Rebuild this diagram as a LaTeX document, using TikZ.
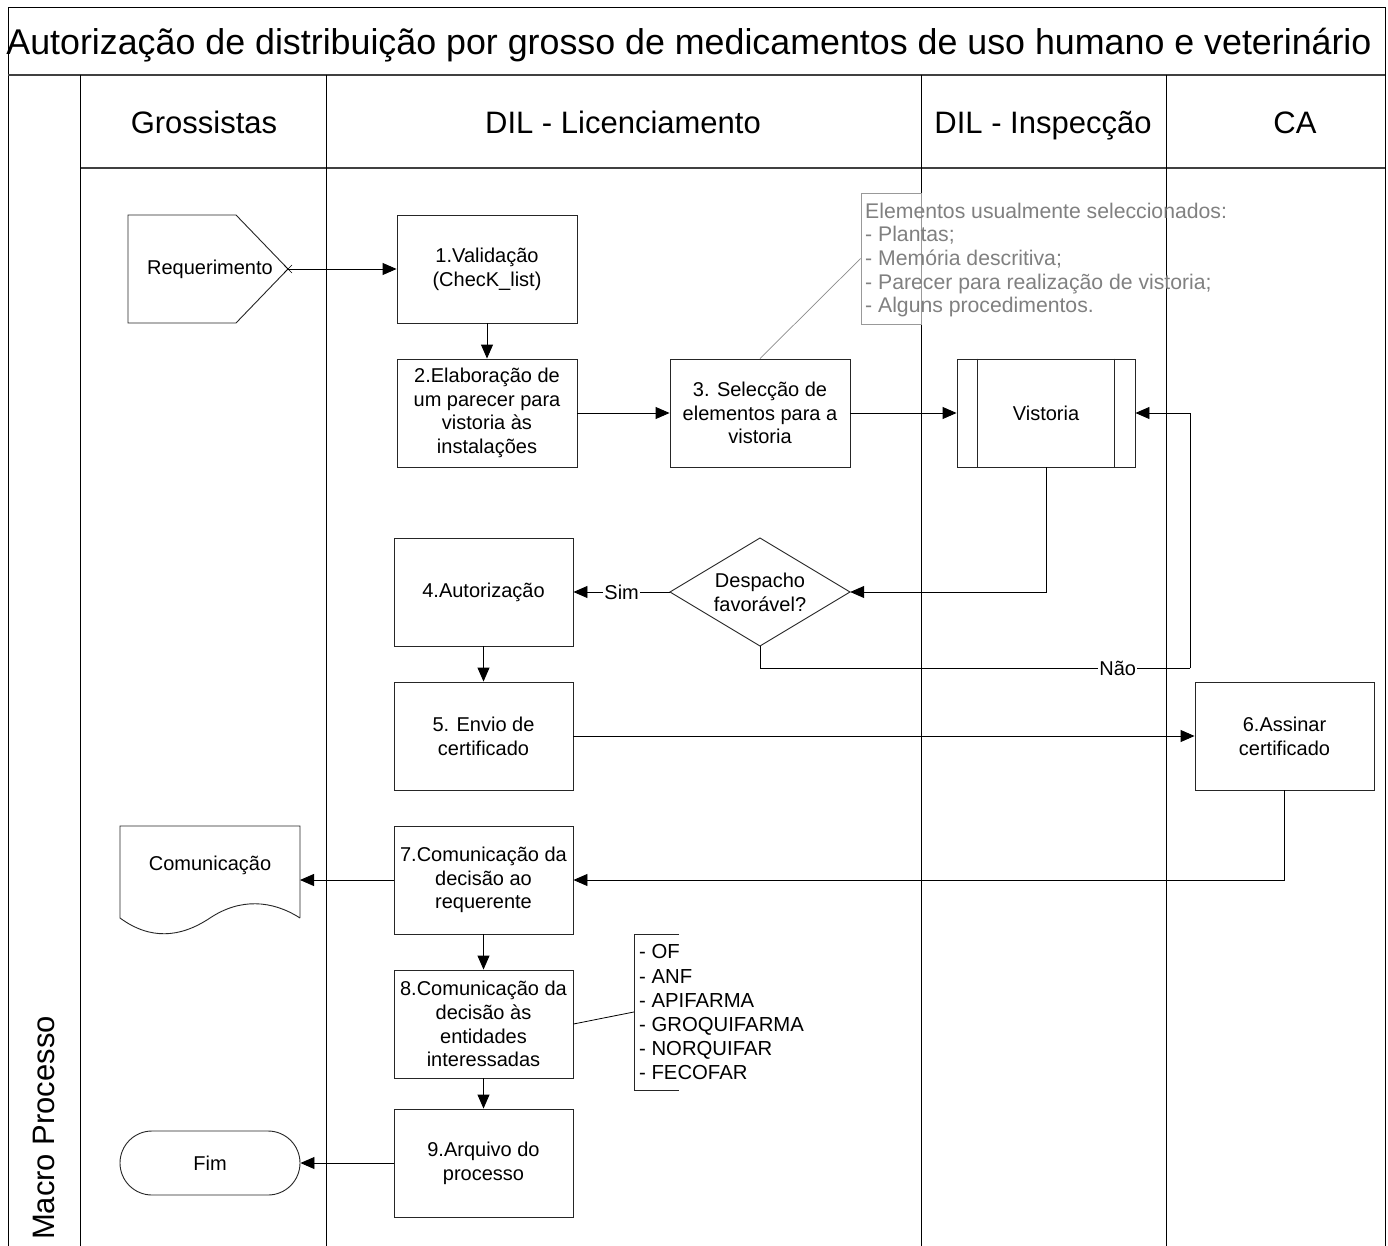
\documentclass[tikz,border=0pt]{standalone}
\usepackage{fontspec}
\setmainfont{Liberation Sans}
\usetikzlibrary{arrows.meta}
\begin{document}
\begin{tikzpicture}[x=1pt,y=-1pt,
  fs/.style={font=\fontsize{20}{23.7}\selectfont},
  hd/.style={font=\fontsize{31}{36}\selectfont, anchor=base, inner sep=0pt},
  box/.style={draw=black!85, line width=0.9pt, minimum width=180pt, minimum height=108pt, align=center, inner sep=0pt, fs},
  arr/.style={-{Triangle[length=14pt,width=12pt]}, line width=0.9pt},
  lane/.style={line width=1pt, black},
  sepline/.style={line width=2.4pt, black!75},
  lbl/.style={fill=white, inner sep=1pt, fs},
  notebox/.style={draw=black!40, line width=0.8pt, minimum width=60pt, minimum height=131pt, inner sep=0pt},
  shapeline/.style={draw=black!85, line width=0.9pt},
]
\useasboundingbox (0,0) rectangle (1388,1246);
\fill[white] (0,0) rectangle (1388,1246);

% frame and lanes
\draw[lane] (8,1246) -- (8,8) -- (1385,8) -- (1385,1246);
\draw[sepline] (8,75) -- (1385,75);
\draw[sepline] (80,168) -- (1385,168);
\draw[lane] (80,75) -- (80,1246);
\draw[lane] (326,75) -- (326,1246);
\draw[lane] (921,75) -- (921,1246);
\draw[lane] (1166,75) -- (1166,1246);

% titles
\node[hd, font=\fontsize{35.8}{40}\selectfont] (title) at (689,55) {Autorização de distribuição por grosso de medicamentos de uso humano e veterinário};
\node[hd] (h1) at (204,134) {Grossistas};
\node[hd] (h2) at (623,134) {DIL - Licenciamento};
\node[hd] (h3) at (1043,134) {DIL - Inspecção};
\node[hd] (h4) at (1295,134) {CA};
\node[font=\fontsize{31}{36}\selectfont, rotate=90] (macro) at (44,1128) {Macro Processo};

% Requerimento
\draw[shapeline] (128,215) -- (236,215) -- (288,269) -- (236,323) -- (128,323) -- cycle;
\node[fs] (req) at (210,269) {Requerimento};
\coordinate (reqtip) at (288,269);
\draw[line width=0.6pt] ([shift={(-4,-4)}]reqtip) -- ([shift={(4,4)}]reqtip)
  ([shift={(-4,4)}]reqtip) -- ([shift={(4,-4)}]reqtip);

% process boxes
\node[box] (b1) at (487,269) {1.Validação\\(ChecK\_list)};
\node[box] (b2) at (487,413) {2.Elaboração de\\um parecer para\\vistoria às\\instalações};
\node[box] (b3) at (760,413) {3. Selecção de\\elementos para a\\vistoria};
\node[box, minimum width=178pt] (vis) at (1046,413) {Vistoria};
\draw[shapeline] ([xshift=21pt]vis.north west) -- ([xshift=21pt]vis.south west);
\draw[shapeline] ([xshift=-21pt]vis.north east) -- ([xshift=-21pt]vis.south east);

% annotation
\node[notebox] (ann) at (891,258.5) {};
\node[font=\fontsize{21.2}{23.7}\selectfont, text=black!50, align=left, anchor=west, inner sep=0pt] (anntext) at (865,260)
  {Elementos usualmente seleccionados:\\- Plantas;\\- Memória descritiva;\\- Parecer para realização de vistoria;\\- Alguns procedimentos.};
\draw[draw=black!45, line width=0.7pt] (b3.north) -- (ann.west);

% decision
\draw[shapeline] (670,592) -- (760,538) -- (850,592) -- (760,646) -- cycle;
\node[fs, align=center, inner sep=0pt, minimum width=180pt, minimum height=108pt] (dec) at (760,592) {Despacho\\favorável?};

\node[box, minimum width=179pt] (b4) at (483.5,592) {4.Autorização};
\node[box, minimum width=179pt] (b5) at (483.5,736) {5. Envio de\\certificado};
\node[box, minimum width=179pt] (b6) at (1284.5,736) {6.Assinar\\certificado};
\node[box, minimum width=179pt] (b7) at (483.5,880) {7.Comunicação da\\decisão ao\\requerente};
\node[box, minimum width=179pt] (b8) at (483.5,1024) {8.Comunicação da\\decisão às\\entidades\\interessadas};
\node[box, minimum width=179pt] (b9) at (483.5,1163) {9.Arquivo do\\processo};

% Comunicação document
\draw[shapeline] (300,918) -- (300,826) -- (120,826) -- (120,918)
  .. controls (150,940) and (180,938) .. (210,918)
  .. controls (240,898) and (272,900) .. (300,918);
\node[fs, inner sep=0pt, minimum width=180pt, minimum height=108pt] (doc) at (210,865) {Comunicação};
\coordinate (docR) at (300,880);

% Fim
\node[draw=black!85, line width=0.9pt, rounded corners=32pt, minimum width=180pt, minimum height=64pt, inner sep=0pt, fs] (fim) at (210,1163) {Fim};

% list bracket
\draw[shapeline] (679,934) -- (634,934) -- (634,1090) -- (679,1090);
\node[minimum width=45pt, minimum height=156pt, inner sep=0pt] (lstbr) at (656.5,1012) {};
\node[font=\fontsize{20.3}{24}\selectfont, align=left, anchor=west, inner sep=0pt] (lst) at (639,1012)
  {- OF\\- ANF\\- APIFARMA\\- GROQUIFARMA\\- NORQUIFAR\\- FECOFAR};
\draw[line width=0.8pt] (b8.east) -- (lstbr.west);

% connectors
\draw[arr] (reqtip) -- (b1.west);
\draw[arr] (b1.south) -- (b2.north);
\draw[arr] (b2.east) -- (b3.west);
\draw[arr] (b3.east) -- (vis.west);
\draw[arr] (vis.south) |- (dec.east);
\draw[arr] (dec.west) -- node[lbl, pos=0.5] {Sim} (b4.east);
\coordinate (nao) at (1190,668);
\draw[line width=0.9pt] (dec.south) |- node[lbl, pos=0.916] {Não} (nao);
\draw[arr] (nao) |- (vis.east);
\draw[arr] (b4.south) -- (b5.north);
\draw[arr] (b5.east) -- (b6.west);
\draw[arr] (b6.south) |- (b7.east);
\draw[arr] (b7.west) -- (docR);
\draw[arr] (b7.south) -- (b8.north);
\draw[arr] (b8.south) -- (b9.north);
\draw[arr] (b9.west) -- (fim.east);
\end{tikzpicture}
\end{document}
